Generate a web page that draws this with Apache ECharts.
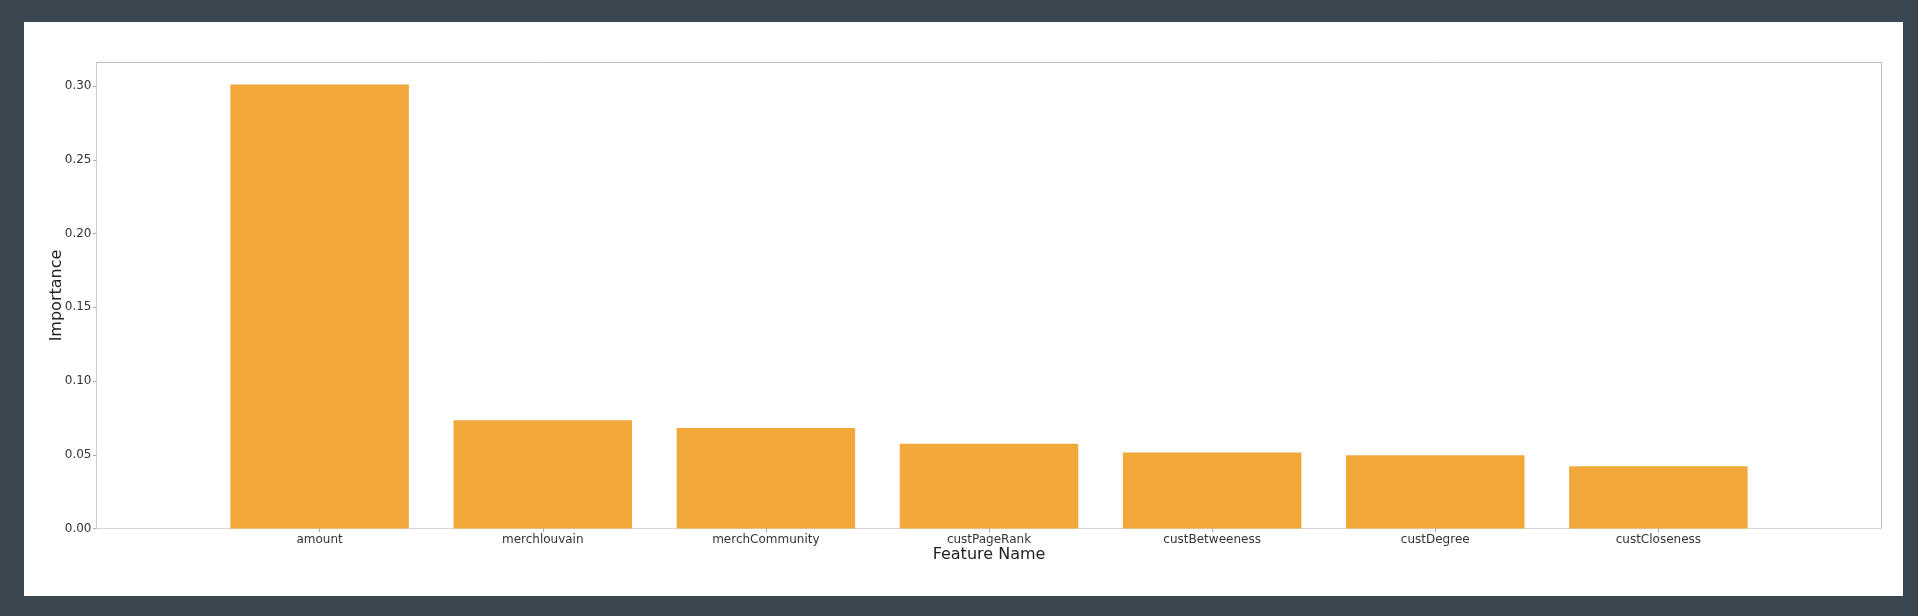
<!DOCTYPE html>
<html>
<head>
<meta charset="utf-8">
<script src="https://cdn.jsdelivr.net/npm/echarts@6/dist/echarts.min.js"></script>
<style>
  html, body { margin: 0; padding: 0; width: 1918px; height: 616px; background: #3a4750; overflow: hidden; }
  #panel { position: absolute; left: 24px; top: 22px; width: 1879px; height: 574px; background: #ffffff; }
  #chart { width: 100%; height: 100%; }
</style>
</head>
<body>
<div id="panel"><div id="chart"></div></div>
<script>
// Data
const categories = ['amount', 'merchlouvain', 'merchCommunity', 'custPageRank', 'custBetweeness', 'custDegree', 'custCloseness'];
const importance = [0.301, 0.0734, 0.0682, 0.0575, 0.0516, 0.0497, 0.0422];
const yTicks = [0, 0.05, 0.10, 0.15, 0.20, 0.25, 0.30];
const yMax = 0.316;

// padded category list so the axis spans from -1 to n (matplotlib-like margins)
const axisCats = [''].concat(categories, ['']);
const axisValues = [null].concat(importance, [null]);

const chart = echarts.init(document.getElementById('chart'), null, { renderer: 'canvas' });
const font = 'DejaVu Sans';
chart.setOption({
  animation: false,
  backgroundColor: '#ffffff',
  grid: {
    left: 72.5, right: 21.5, top: 40.5, bottom: 67.5,
    show: true, borderColor: '#bdbdbd', borderWidth: 1, backgroundColor: 'transparent'
  },
  xAxis: {
    type: 'category',
    data: axisCats,
    boundaryGap: false,
    name: 'Feature Name',
    nameLocation: 'middle',
    nameGap: 18,
    nameMoveOverlap: false,
    nameTextStyle: { fontFamily: font, fontSize: 16, color: '#222' },
    axisLine: { show: true, lineStyle: { color: '#d6d6d6', width: 1 } },
    axisTick: {
      show: true, length: 3.5, alignWithLabel: true,
      interval: function (idx) { return idx > 0 && idx < axisCats.length - 1; },
      lineStyle: { color: '#aaa' }
    },
    axisLabel: { fontFamily: font, fontSize: 12, color: '#333', margin: 5, interval: 0 },
    splitLine: { show: false }
  },
  yAxis: {
    type: 'value',
    min: 0,
    max: yMax,
    interval: 0.05,
    name: 'Importance',
    nameLocation: 'middle',
    nameGap: 32,
    nameMoveOverlap: false,
    nameTextStyle: { fontFamily: font, fontSize: 16, color: '#222' },
    axisLine: { show: true, lineStyle: { color: '#cfcfcf', width: 1 } },
    axisTick: { show: true, length: 3.5, customValues: yTicks, lineStyle: { color: '#aaa' } },
    axisLabel: {
      fontFamily: font, fontSize: 12, color: '#333', margin: 5,
      customValues: yTicks,
      formatter: function (v) { return v.toFixed(2); }
    },
    splitLine: { show: false }
  },
  series: [{
    type: 'bar',
    data: axisValues,
    barWidth: '80%',
    itemStyle: { color: '#f2a73b' }
  }]
});
</script>
</body>
</html>
